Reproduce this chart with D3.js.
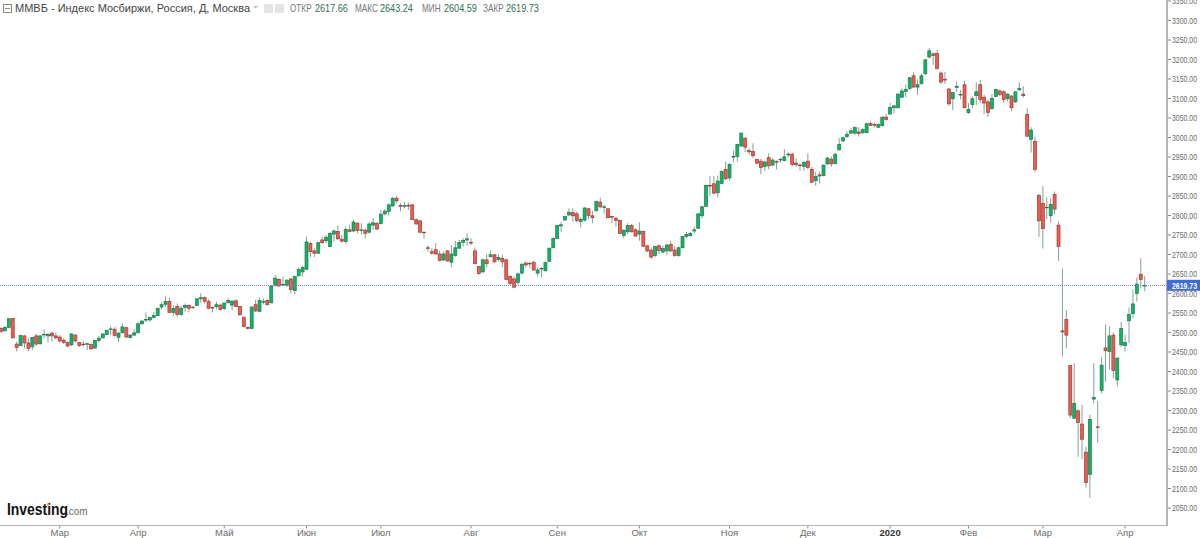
<!DOCTYPE html>
<html>
<head>
<meta charset="utf-8">
<script src="https://cdnjs.cloudflare.com/ajax/libs/d3/7.9.0/d3.min.js"></script>
<style>
  html, body { margin: 0; padding: 0; background: #fff; }
  svg { display: block; }
  text { font-family: "Liberation Sans", Arial, sans-serif; }
</style>
</head>
<body>
<svg id="chart" width="1200" height="538"></svg>
<script>
const opens = [
  2509,2503,2512,2535,2469,2465,2490,2472,2462,2490,
  2470,2493,2490,2497,2490,2487,2479,2473,2467,2492,
  2473,2469,2469,2468,2459,2478,2485,2494,2507,2507,
  2486,2498,2511,2486,2492,2498,2521,2531,2531,2537,
  2542,2564,2571,2578,2550,2565,2545,2563,2568,2564,
  2568,2585,2588,2578,2563,2565,2569,2560,2575,2569,
  2580,2565,2538,2512,2509,2570,2553,2577,2581,2575,
  2620,2635,2621,2620,2636,2606,2644,
  2654,2661,2727,2708,2702,2736,2734,2719,2751,2758,
  2738,2732,2762,2759,2779,2762,2761,2756,2774,2778,
  2778,2803,2809,2823,2843,2824,2823,2825,2826,2788,
  2785,2756,2716,2706,2711,2700,2685,2708,2679,2696,
  2715,2730,2736,2730,2708,2668,2654,2685,2693,2698,
  2686,2689,2685,2642,2636,2627,2651,2677,2676,2679,
  2651,2662,2657,2681,2716,2740,2772,2787,2800,2806,
  2803,2783,2787,2816,2798,2811,
  2833,2820,2816,2796,2792,2786,2748,2757,2773,2762,
  2751,2758,2721,2710,2696,2721,2705,2708,2724,2710,
  2696,2716,2745,2747,2759,2766,2798,2822,2876,2880,
  2857,2881,2917,2895,2950,2950,2977,2997,2965,2963,
  2942,2938,2924,2947,2928,2937,2941,2940,2954,2956,
  2933,2928,2924,2938,2917,2888,2903,2901,2931,2943,
  2932,2967,2990,3001,3010,3010,3013,3011,3011,3035,
  3032,3025,3029,3051,
  3059,3075,3075,3102,3117,3124,3157,3128,3137,3162,
  3205,3213,3214,3164,3148,3123,3098,3127,3108,3134,
  3063,3083,3106,3134,3102,3090,3073,3104,3118,3116,
  3098,3105,3090,3121,3110,3058,2994,2989,
  2850,2830,2820,2798,2853,2774,2503,2532,2414,2279,
  2298,2264,2192,2135,2328,2257,2350,2459,2450,2492,
  2377,2467,2465,2529,2547,2599,2648,2617.66
];
const highs = [
  2512,2514,2535,2536,2475,2492,2492,2484,2488,2495,
  2492,2507,2497,2501,2498,2492,2484,2475,2497,2495,
  2475,2478,2473,2471,2480,2490,2497,2506,2515,2512,
  2500,2522,2514,2495,2507,2526,2531,2550,2539,2552,
  2562,2576,2591,2589,2569,2573,2567,2573,2571,2567,
  2586,2599,2591,2584,2565,2578,2573,2577,2586,2582,
  2584,2567,2539,2514,2566,2582,2589,2586,2584,2620,
  2646,2638,2642,2635,2638,2644,2665,
  2669,2745,2732,2715,2732,2745,2749,2757,2763,2773,
  2749,2770,2775,2787,2781,2779,2766,2781,2792,2783,
  2813,2815,2830,2846,2849,2830,2834,2832,2828,2791,
  2787,2757,2722,2715,2728,2709,2706,2710,2723,2734,
  2736,2740,2753,2740,2717,2669,2688,2700,2709,2700,
  2700,2698,2688,2646,2642,2652,2676,2681,2681,2682,
  2666,2666,2681,2716,2742,2775,2781,2798,2817,2817,
  2809,2794,2820,2818,2811,2837,
  2845,2826,2818,2798,2794,2789,2763,2779,2777,2766,
  2781,2760,2723,2717,2721,2725,2721,2726,2734,2721,
  2719,2746,2757,2757,2770,2804,2823,2878,2900,2900,
  2901,2914,2937,2932,2965,2982,3011,2999,2971,2984,
  2944,2944,2939,2958,2945,2940,2947,2969,2961,2960,
  2945,2933,2939,2958,2924,2910,2911,2929,2949,2950,
  2958,2997,3001,3014,3022,3027,3025,3022,3036,3040,
  3038,3035,3052,3059,
  3087,3081,3112,3125,3134,3153,3166,3148,3163,3199,
  3228,3217,3223,3168,3167,3125,3116,3142,3121,3144,
  3087,3104,3140,3146,3108,3097,3110,3124,3122,3121,
  3112,3108,3117,3140,3131,3074,3025,3001,
  2855,2874,2845,2843,2860,2783,2663,2556,2416,2420,
  2302,2313,2206,2288,2420,2323,2435,2520,2515,2499,
  2435,2526,2492,2563,2609,2640,2689,2643.24
];
const lows = [
  2498,2502,2509,2484,2450,2464,2458,2451,2454,2464,
  2467,2484,2473,2475,2481,2473,2469,2461,2464,2473,
  2461,2462,2454,2454,2457,2473,2483,2492,2492,2488,
  2474,2497,2485,2483,2491,2497,2519,2526,2526,2534,
  2541,2558,2565,2549,2541,2539,2541,2552,2550,2558,
  2567,2575,2573,2558,2550,2558,2555,2556,2573,2556,
  2563,2543,2512,2507,2508,2551,2551,2571,2568,2573,
  2616,2615,2618,2616,2599,2597,2642,
  2642,2659,2692,2692,2700,2726,2728,2717,2732,2736,
  2729,2726,2755,2756,2753,2749,2740,2753,2762,2762,
  2776,2799,2798,2822,2830,2809,2817,2813,2787,2775,
  2753,2739,2706,2698,2698,2681,2682,2681,2666,2693,
  2713,2719,2721,2723,2674,2646,2652,2666,2692,2678,
  2681,2666,2633,2621,2612,2621,2648,2666,2663,2657,
  2642,2640,2655,2679,2715,2739,2757,2786,2798,2783,
  2781,2768,2783,2789,2779,2809,
  2817,2804,2792,2779,2770,2751,2740,2751,2755,2745,
  2734,2718,2705,2688,2692,2700,2702,2697,2705,2693,
  2693,2715,2741,2745,2753,2764,2792,2821,2849,2853,
  2845,2880,2890,2888,2935,2937,2974,2961,2954,2946,
  2930,2905,2913,2917,2926,2917,2934,2937,2948,2924,
  2924,2913,2913,2917,2882,2875,2881,2899,2928,2924,
  2930,2965,2987,2997,3008,3005,3001,3008,3010,3028,
  3025,3023,3027,3042,
  3057,3061,3073,3099,3102,3121,3127,3108,3134,3160,
  3202,3185,3174,3136,3136,3080,3069,3116,3097,3074,
  3059,3074,3082,3087,3059,3051,3069,3102,3104,3087,
  3091,3066,3087,3118,3101,3000,2960,2911,
  2744,2714,2790,2781,2802,2682,2437,2458,2279,2277,
  2180,2174,2101,2075,2317,2216,2343,2373,2404,2381,
  2360,2461,2450,2472,2535,2578,2612,2604.59
];
const closes = [
  2501,2512,2534,2485,2460,2491,2472,2458,2486,2469,
  2490,2494,2494,2490,2485,2477,2473,2464,2495,2477,
  2465,2468,2470,2457,2478,2484,2495,2504,2508,2491,
  2497,2513,2487,2492,2498,2521,2528,2532,2537,2542,
  2560,2570,2578,2550,2560,2545,2561,2568,2561,2563,
  2585,2588,2579,2561,2562,2570,2558,2574,2581,2579,
  2565,2544,2514,2509,2564,2554,2581,2578,2570,2618,
  2638,2618,2622,2633,2609,2642,2660,
  2665,2731,2706,2702,2729,2729,2743,2753,2759,2739,
  2733,2763,2758,2782,2760,2762,2753,2777,2780,2764,
  2802,2810,2826,2843,2836,2823,2824,2823,2788,2777,
  2756,2755,2714,2702,2700,2683,2700,2682,2700,2716,
  2730,2735,2739,2728,2675,2650,2685,2675,2698,2680,
  2691,2680,2635,2624,2615,2649,2674,2672,2675,2659,
  2659,2663,2678,2715,2740,2773,2775,2796,2807,2798,
  2786,2789,2818,2799,2793,2835,
  2821,2821,2793,2795,2786,2753,2761,2773,2757,2746,
  2759,2720,2708,2692,2719,2709,2714,2723,2708,2696,
  2716,2745,2750,2753,2762,2803,2821,2876,2874,2856,
  2887,2912,2893,2930,2950,2981,3010,2974,2962,2952,
  2933,2922,2936,2926,2941,2936,2943,2949,2956,2930,
  2929,2927,2935,2922,2884,2899,2900,2928,2946,2931,
  2956,2981,2998,3007,3016,3024,3009,3019,3034,3030,
  3030,3032,3051,3045,
  3076,3080,3110,3118,3122,3152,3128,3134,3157,3198,
  3221,3209,3175,3141,3146,3085,3114,3130,3109,3075,
  3071,3098,3116,3096,3087,3063,3099,3122,3109,3096,
  3110,3075,3116,3125,3106,3002,3018,2917,
  2785,2765,2819,2827,2815,2719,2500,2492,2287,2317,
  2268,2225,2114,2276,2332,2255,2415,2452,2490,2401,
  2433,2509,2473,2545,2572,2623,2635,2619.73
];

// candle index of the first session of each month
const monthIndex = [15, 35, 57, 78, 97, 120, 142, 163, 186, 206, 227, 247, 266, 287];
const monthLabels = ["Мар", "Апр", "Май", "Июн", "Июл", "Авг", "Сен", "Окт", "Ноя", "Дек", "2020", "Фев", "Мар", "Апр"];

const priceTicks = d3.range(2050, 3351, 50);
const lastPrice = 2619.73;

const titleText = "ММВБ - Индекс Мосбиржи, Россия, Д, Москва";
const quoteLabels = ["ОТКР", "МАКС", "МИН", "ЗАКР"];
const quoteValues = ["2617.66", "2643.24", "2604.59", "2619.73"];

const AXIS_X = 1167;
const AXIS_Y = 525.5;
const BODY_WIDTH = 3;
const UP_FILL = "#07b865";
const UP_STROKE = "#2f7353";
const DOWN_FILL = "#f25a50";
const DOWN_STROKE = "#93403a";
const WICK = "#82a293";
const AXIS_COLOR = "#b4b4b4";
const TEXT_COLOR = "#6a6a6a";
// the screenshot squeezes small text sideways
const PRICE_SQUEEZE = 0.73;

const svg = d3.select("#chart");

const x = d3.scaleLinear().domain([0, opens.length - 1]).range([1, 1144.7]);
const y = d3.scaleLinear().domain([2050, 3350]).range([507.5, 0.5]);

const candles = d3.range(opens.length);

// wicks go first so the bodies sit on top
svg.append("g")
  .attr("stroke", WICK)
  .attr("stroke-width", 1)
  .selectAll("line")
  .data(candles)
  .join("line")
  .attr("x1", (i) => x(i))
  .attr("x2", (i) => x(i))
  .attr("y1", (i) => y(highs[i]))
  .attr("y2", (i) => y(lows[i]));

svg.append("g")
  .attr("stroke-width", 0.7)
  .selectAll("rect")
  .data(candles)
  .join("rect")
  .attr("x", (i) => x(i) - BODY_WIDTH / 2)
  .attr("width", BODY_WIDTH)
  .attr("y", (i) => y(Math.max(opens[i], closes[i])))
  .attr("height", (i) => Math.max(0.6, Math.abs(y(opens[i]) - y(closes[i]))))
  .attr("fill", (i) => (closes[i] >= opens[i] ? UP_FILL : DOWN_FILL))
  .attr("stroke", (i) => (closes[i] >= opens[i] ? UP_STROKE : DOWN_STROKE));

// last price line
svg.append("line")
  .attr("x1", 0)
  .attr("x2", AXIS_X)
  .attr("y1", Math.round(y(lastPrice)) + 0.5)
  .attr("y2", Math.round(y(lastPrice)) + 0.5)
  .attr("stroke", "#6d88e6")
  .attr("stroke-dasharray", "1 1");

// price axis
const priceAxis = d3.axisRight(y)
  .tickValues(priceTicks)
  .tickFormat(d3.format(".2f"))
  .tickSize(4)
  .tickPadding(1);

const priceG = svg.append("g")
  .attr("transform", `translate(${AXIS_X},0)`)
  .call(priceAxis);
priceG.select(".domain").remove();
priceG.selectAll(".tick line").attr("stroke", "#8a8a8a");
priceG.selectAll(".tick text")
  .attr("x", 5 / PRICE_SQUEEZE)
  .attr("transform", `scale(${PRICE_SQUEEZE},1)`)
  .attr("fill", TEXT_COLOR)
  .style("font-size", "9.5px")
  .style("font-family", '"Liberation Sans", Arial, sans-serif');

// month axis
const monthG = svg.append("g");
monthG.selectAll("line")
  .data(monthIndex)
  .join("line")
  .attr("x1", (d) => x(d))
  .attr("x2", (d) => x(d))
  .attr("y1", AXIS_Y)
  .attr("y2", AXIS_Y + 3)
  .attr("stroke", "#8a8a8a");
monthG.selectAll("text")
  .data(monthIndex)
  .join("text")
  .attr("x", (d) => x(d))
  .attr("y", 536)
  .attr("text-anchor", "middle")
  .attr("font-size", 9.5)
  .attr("font-weight", (d, i) => (monthLabels[i] === "2020" ? "bold" : "normal"))
  .attr("fill", (d, i) => (monthLabels[i] === "2020" ? "#333" : TEXT_COLOR))
  .text((d, i) => monthLabels[i]);

// frame
svg.append("line")
  .attr("x1", 0).attr("x2", AXIS_X + 1)
  .attr("y1", AXIS_Y).attr("y2", AXIS_Y)
  .attr("stroke", AXIS_COLOR).attr("stroke-width", 1.2);
svg.append("line")
  .attr("x1", AXIS_X).attr("x2", AXIS_X)
  .attr("y1", 0).attr("y2", AXIS_Y)
  .attr("stroke", AXIS_COLOR).attr("stroke-width", 2);

// price tag
svg.append("rect")
  .attr("x", AXIS_X)
  .attr("y", y(lastPrice) - 5.5)
  .attr("width", 33)
  .attr("height", 11)
  .attr("fill", "#4169d8");
svg.append("text")
  .attr("transform", `translate(${AXIS_X + 5},${y(lastPrice) + 3.3}) scale(${PRICE_SQUEEZE},1)`)
  .attr("font-size", 9.5)
  .attr("font-weight", "bold")
  .attr("fill", "#fff")
  .text(d3.format(".2f")(lastPrice));

// header row
const head = svg.append("g");
head.append("rect")
  .attr("x", 3.5).attr("y", 4.5).attr("width", 8).attr("height", 8)
  .attr("fill", "none").attr("stroke", "#8a8a8a");
head.append("line")
  .attr("x1", 5).attr("x2", 10).attr("y1", 8.5).attr("y2", 8.5)
  .attr("stroke", "#8a8a8a");
head.append("text")
  .attr("x", 15).attr("y", 12)
  .attr("font-family", '"Open Sans", sans-serif')
  .attr("font-size", 11)
  .attr("fill", "#444")
  .attr("textLength", 235)
  .text(titleText);
head.append("path")
  .attr("d", "M253 6h5l-2.5 2.5z")
  .attr("fill", "#bbb");
head.selectAll("rect.opt")
  .data([264, 275])
  .join("rect")
  .attr("class", "opt")
  .attr("x", (d) => d).attr("y", 4).attr("width", 9).attr("height", 9)
  .attr("fill", "#e4e4e4");

const labelX = [290, 355, 422, 483];
const valueX = [315, 380, 444, 506];
head.selectAll("text.lbl")
  .data(quoteLabels)
  .join("text")
  .attr("class", "lbl")
  .attr("transform", (d, i) => `translate(${labelX[i]},12) scale(0.82,1)`)
  .attr("font-size", 10)
  .attr("fill", "#777")
  .text((d) => d);
head.selectAll("text.val")
  .data(quoteValues)
  .join("text")
  .attr("class", "val")
  .attr("transform", (d, i) => `translate(${valueX[i]},12) scale(0.91,1)`)
  .attr("font-size", 10)
  .attr("fill", "#2f6f55")
  .text((d) => d);

// logo
const logo = svg.append("g");
logo.append("text")
  .attr("transform", "translate(7,515) scale(0.87,1)")
  .attr("font-size", 16)
  .attr("font-weight", "bold")
  .attr("fill", "#111")
  .text("Investing");
logo.append("text")
  .attr("transform", "translate(66,515) scale(0.9,1)")
  .attr("font-size", 11)
  .attr("fill", "#666")
  .text(".com");
logo.append("circle")
  .attr("cx", 48).attr("cy", 504.5).attr("r", 1.3)
  .attr("fill", "#f5a623");
</script>
</body>
</html>
